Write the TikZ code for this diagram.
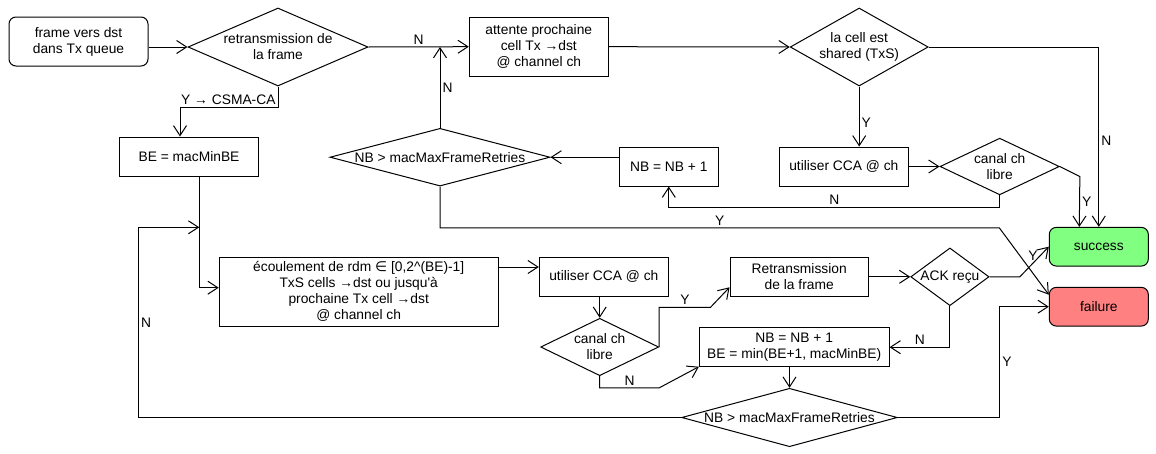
\documentclass[tikz,border=0pt]{standalone}
\usepackage{fontspec}
\setmainfont{Liberation Sans}
\newfontfamily\symfont{DejaVu Sans}
\usetikzlibrary{shapes.geometric,arrows.meta}
\definecolor{okgreen}{HTML}{80FF80}
\definecolor{kored}{HTML}{FF8080}

\tikzset{
  box/.style={draw, rectangle, align=center, inner sep=0pt},
  startbox/.style={box, rounded corners=7pt},
  endbox/.style={box, rounded corners=7pt, minimum width=99pt, minimum height=38.7pt},
  decision/.style={draw, diamond, inner sep=0pt},
  arr/.style={-{Straight Barb[length=10pt,width=13pt]}},
  lbl/.style={inner sep=2pt},
}

\begin{document}
\begin{tikzpicture}[x=1pt, y=-1pt, line width=1pt,
   font=\fontsize{13.8pt}{16pt}\selectfont,
   every label/.style={align=center, inner sep=0pt}]
   \useasboundingbox (0,0) rectangle (1156,453);

   % top row
   \node[startbox, minimum width=139pt, minimum height=49pt] (start) at (78.5,41.5) {frame vers dst\\dans Tx queue};
   \node[decision, minimum width=180pt, minimum height=78pt, label={center:retransmission de\\la frame}] (retr) at (278,47) {};
   \node[box, minimum width=139pt, minimum height=58.7pt] (attente) at (538.8,46.7) {attente prochaine\\cell Tx →dst\\@ channel ch};
   \node[decision, minimum width=138pt, minimum height=78pt, label={center:la cell est\\shared (TxS)}] (lacell) at (859.2,47) {};

   % second row
   \node[box, minimum width=139.4pt, minimum height=39pt] (be) at (189,156.5) {BE = macMinBE};
   \node[decision, minimum width=220pt, minimum height=57.7pt, label={center:NB > macMaxFrameRetries}] (nbmaxa) at (440,157.2) {};
   \node[box, minimum width=99pt, minimum height=38.7pt] (nba) at (668.8,166.7) {NB = NB + 1};
   \node[box, minimum width=129pt, minimum height=39pt] (ccaa) at (843.8,166.5) {utiliser CCA @ ch};
   \node[decision, minimum width=119.3pt, minimum height=56.7pt, label={center:canal ch\\libre}] (canala) at (999.7,166.5) {};

   % results
   \node[endbox, fill=okgreen] (success) at (1098.8,246.7) {success};
   \node[endbox, fill=kored] (failure) at (1098.8,306.7) {failure};

   % CSMA-CA part
   \node[box, minimum width=279pt, minimum height=69pt] (ecoul) at (358.7,291.8) {écoulement de rdm {\symfont ∈} [0,2\textasciicircum(BE)-1]\\TxS cells →dst ou jusqu\textquotesingle à\\prochaine Tx cell →dst\\@ channel ch};
   \node[box, minimum width=129pt, minimum height=39pt] (ccab) at (603.8,276.8) {utiliser CCA @ ch};
   \node[decision, minimum width=118pt, minimum height=57.4pt, label={center:canal ch\\libre}] (canalb) at (599.7,347) {};
   \node[box, minimum width=138.3pt, minimum height=39pt] (retrans) at (799.2,276.8) {Retransmission\\de la frame};
   \node[decision, minimum width=78.3pt, minimum height=57.7pt, label={center:ACK reçu}] (ack) at (949.9,276.8) {};
   \node[box, minimum width=189.7pt, minimum height=39pt] (nbb) at (794.2,347.2) {NB = NB + 1\\BE = min(BE+1, macMinBE)};
   \node[decision, minimum width=215.6pt, minimum height=58.4pt, label={center:NB > macMaxFrameRetries}] (nbmaxb) at (789.5,417.5) {};

   \coordinate (ccabin) at ([yshift=9.8pt]ccab.west);
   \coordinate (bejoin) at (199.3,227.3);

   % connectors
   \draw[arr] (start.east |- retr.west) -- (retr.west);
   \draw[arr] (retr.south) -- ++(0,21) node[lbl, anchor=south east]{Y → CSMA-CA} -| ([xshift=-9pt]be.north);
   \draw[arr] (retr.east) -- node[lbl, above]{N} (attente.west);
   \draw[arr] (attente.east) -- (lacell.west);
   \draw[arr] (lacell.east) -| node[lbl, pos=0.76, right]{N} (success.north);
   \draw[arr] (lacell.south) -- node[lbl, pos=0.6, right]{Y} (lacell.south |- ccaa.north);
   \draw[arr] (ccaa.east) -- (canala.west);
   \draw[arr] (canala.east) -- ++(20,10) -- node[lbl, midway, right]{Y} ([xshift=-19.5pt]success.north);
   \draw[arr] (canala.south) -- ++(0,11.7) -| node[lbl, pos=0.25, above]{N} (nba.south);
   \draw[arr] (nba.west |- nbmaxa.east) -- (nbmaxa.east);
   \draw[arr] (nbmaxa.north) -- node[lbl, midway, right]{N} (nbmaxa.north |- retr.east);
   \draw[arr] (nbmaxa.south) -- ++(0,41.3) -- node[lbl, above]{Y} ++(559.3,0) -- ([yshift=12pt]failure.west);

   \draw[arr] ([xshift=10.3pt]be.south) |- ([yshift=4.1pt]ecoul.west);
   \draw[arr] (ecoul.east |- ccabin) -- (ccabin);
   \draw[arr] (ccab.south -| canalb.north) -- (canalb.north);
   \draw[arr] (canalb.east) -- ++(0,-39.7) -- node[lbl, above]{Y} ++(51.3,0) -- ([yshift=-10.5pt]retrans.west);
   \draw[arr] (canalb.south) -- ++(0,11.6) -- node[lbl, above]{N} ++(59.6,0) -- ([yshift=-19.5pt]nbb.west);
   \draw[arr] (retrans.east) -- (ack.west);
   \draw[arr] (ack.east) -- ++(30.3,0) -- node[lbl, pos=0.7, left]{Y} (success.west);
   \draw[arr] (ack.south) |- node[lbl, pos=0.75, above]{N} (nbb.east);
   \draw[arr] (nbb.south -| nbmaxb.north) -- (nbmaxb.north);
   \draw[arr] (nbmaxb.east) -- ++(102,0) |- node[lbl, pos=0.25, right]{Y} (failure.west);
   \draw[arr] (nbmaxb.west) -- ++(-542.7,0) |- node[lbl, pos=0.25, right]{N} (bejoin);
\end{tikzpicture}
\end{document}
